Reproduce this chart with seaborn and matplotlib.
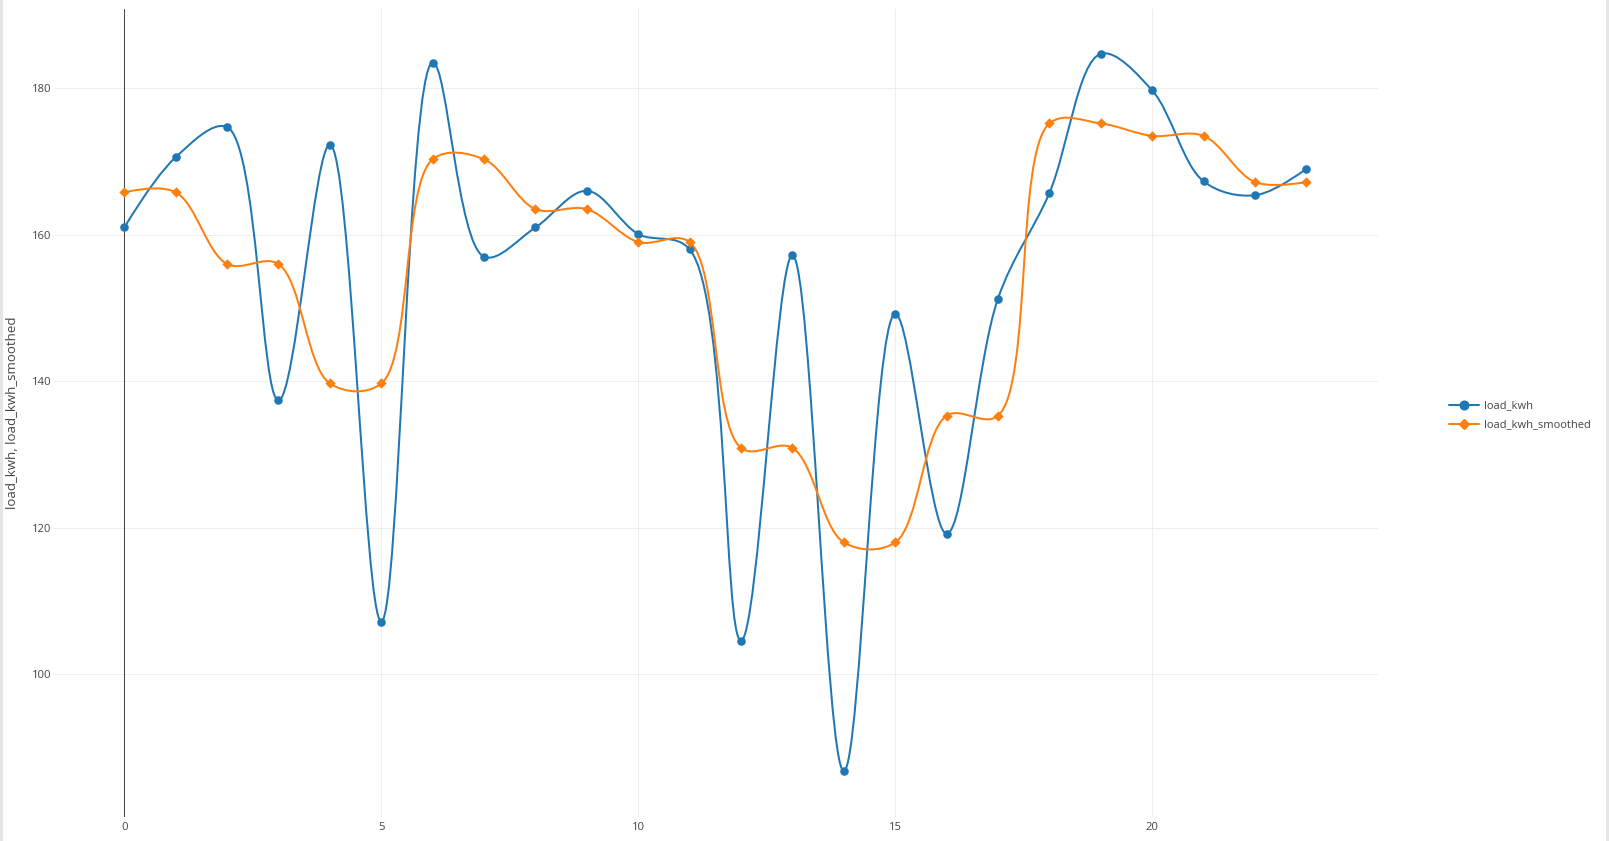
import numpy as np
import pandas as pd
import matplotlib
matplotlib.use("Agg")
import matplotlib.pyplot as plt
import seaborn as sns
from matplotlib.path import Path
from matplotlib.patches import PathPatch, Rectangle
from matplotlib.lines import Line2D

# hourly load values
hours = list(range(24))
load_kwh = [161.0, 170.6, 174.7, 137.4, 172.3, 107.2, 183.5, 157.0, 161.0, 166.0, 160.1, 158.0,
            104.6, 157.2, 86.8, 149.2, 119.2, 151.3, 165.7, 184.7, 179.7, 167.3, 165.4, 169.0]
load_kwh_smoothed = [165.8, 165.8, 156.0, 156.0, 139.7, 139.7, 170.3, 170.3, 163.5, 163.5, 159.0, 159.0,
                     130.9, 130.9, 118.0, 118.0, 135.3, 135.3, 175.2, 175.2, 173.5, 173.5, 167.2, 167.2]
series_names = ["load_kwh", "load_kwh_smoothed"]
x_ticks = [0, 5, 10, 15, 20]
y_ticks = [100, 120, 140, 160, 180]

BLUE = "#1f77b4"
ORANGE = "#ff7f0e"
TXT = "#444444"

df = pd.DataFrame({"hour": hours, "load_kwh": load_kwh, "load_kwh_smoothed": load_kwh_smoothed})

sns.set_theme(style="white")
plt.rcParams["font.family"] = ["Open Sans", "DejaVu Sans"]

W, H = 1609, 841
fig = plt.figure(figsize=(W / 100, H / 100), dpi=100)
ax_l, ax_r, ax_t, ax_b = 53.6, 1378.0, 9.3, 816.7
ax = fig.add_axes([ax_l / W, 1 - ax_b / H, (ax_r - ax_l) / W, (ax_b - ax_t) / H])
xlim = (-1.376, 24.394)
ylim = (80.56, 190.78)
ax.set_xlim(*xlim)
ax.set_ylim(*ylim)


def spline_path(xs, ys):
    # plotly-style spline (smoothing 1), worked out in pixel space
    sx = (ax_r - ax_l) / (xlim[1] - xlim[0])
    sy = (ax_b - ax_t) / (ylim[1] - ylim[0])
    pts = np.column_stack([np.asarray(xs, float) * sx, np.asarray(ys, float) * sy])
    tang = []
    for i in range(1, len(pts) - 1):
        d1 = pts[i - 1] - pts[i]
        d2 = pts[i + 1] - pts[i]
        d1a = np.hypot(*d1) ** 0.5
        d2a = np.hypot(*d2) ** 0.5
        num = d2a * d2a * d1 - d1a * d1a * d2
        tang.append((pts[i] + num / (3 * d2a * (d1a + d2a)),
                     pts[i] - num / (3 * d1a * (d1a + d2a))))
    verts = [pts[0], tang[0][0], pts[1]]
    codes = [Path.MOVETO, Path.CURVE3, Path.CURVE3]
    for i in range(2, len(pts) - 1):
        verts += [tang[i - 2][1], tang[i - 1][0], pts[i]]
        codes += [Path.CURVE4] * 3
    verts += [tang[-1][1], pts[-1]]
    codes += [Path.CURVE3] * 2
    return Path(np.array(verts) / [sx, sy], codes)


# grid + zero line
for yt in y_ticks:
    ax.axhline(yt, color="#eeeeee", lw=0.72, zorder=0)
for xt in x_ticks[1:]:
    ax.axvline(xt, color="#eeeeee", lw=0.72, zorder=0)
ax.axvline(0, color=TXT, lw=0.72, zorder=1)

# lines and markers
ax.add_patch(PathPatch(spline_path(df["hour"], df["load_kwh"]), fill=False,
                       edgecolor=BLUE, lw=1.45, zorder=2))
sns.scatterplot(data=df, x="hour", y="load_kwh", color=BLUE, marker="o", s=38,
                linewidth=0, ax=ax, zorder=3)
ax.add_patch(PathPatch(spline_path(df["hour"], df["load_kwh_smoothed"]), fill=False,
                       edgecolor=ORANGE, lw=1.45, zorder=4))
sns.scatterplot(data=df, x="hour", y="load_kwh_smoothed", color=ORANGE, marker="D", s=28,
                linewidth=0, ax=ax, zorder=5)

for s in ax.spines.values():
    s.set_visible(False)
ax.set_xticks(x_ticks)
ax.set_yticks(y_ticks)
ax.tick_params(axis="both", length=0, labelsize=8.1, labelcolor=TXT)
ax.tick_params(axis="x", pad=3.5)
ax.tick_params(axis="y", pad=1.5)
ax.set_xlabel("")
ax.set_ylabel("load_kwh, load_kwh_smoothed", fontsize=9.5, color=TXT)
ax.yaxis.label.set_verticalalignment("center")
ax.yaxis.set_label_coords((13 - ax_l) / (ax_r - ax_l), 0.5)

handles = [Line2D([], [], color=BLUE, lw=1.45, marker="o", markersize=6.2),
           Line2D([], [], color=ORANGE, lw=1.45, marker="D", markersize=5.2)]
leg = ax.legend(handles, series_names, loc="center left", frameon=False,
                bbox_to_anchor=(1449 / W, 1 - 415.5 / H), bbox_transform=fig.transFigure,
                fontsize=8.0, handlelength=2.7, handletextpad=0.45, labelspacing=0.7,
                borderpad=0, borderaxespad=0)
for t in leg.get_texts():
    t.set_color(TXT)

# thin grey page edges seen in the screenshot
fig.add_artist(Rectangle((0, 0), 3 / W, 1, transform=fig.transFigure, color="#e6e6e6", lw=0))
fig.add_artist(Rectangle((1606 / W, 0), 3 / W, 1, transform=fig.transFigure, color="#e6e6e6", lw=0))

fig.savefig("out.png", dpi=100)
